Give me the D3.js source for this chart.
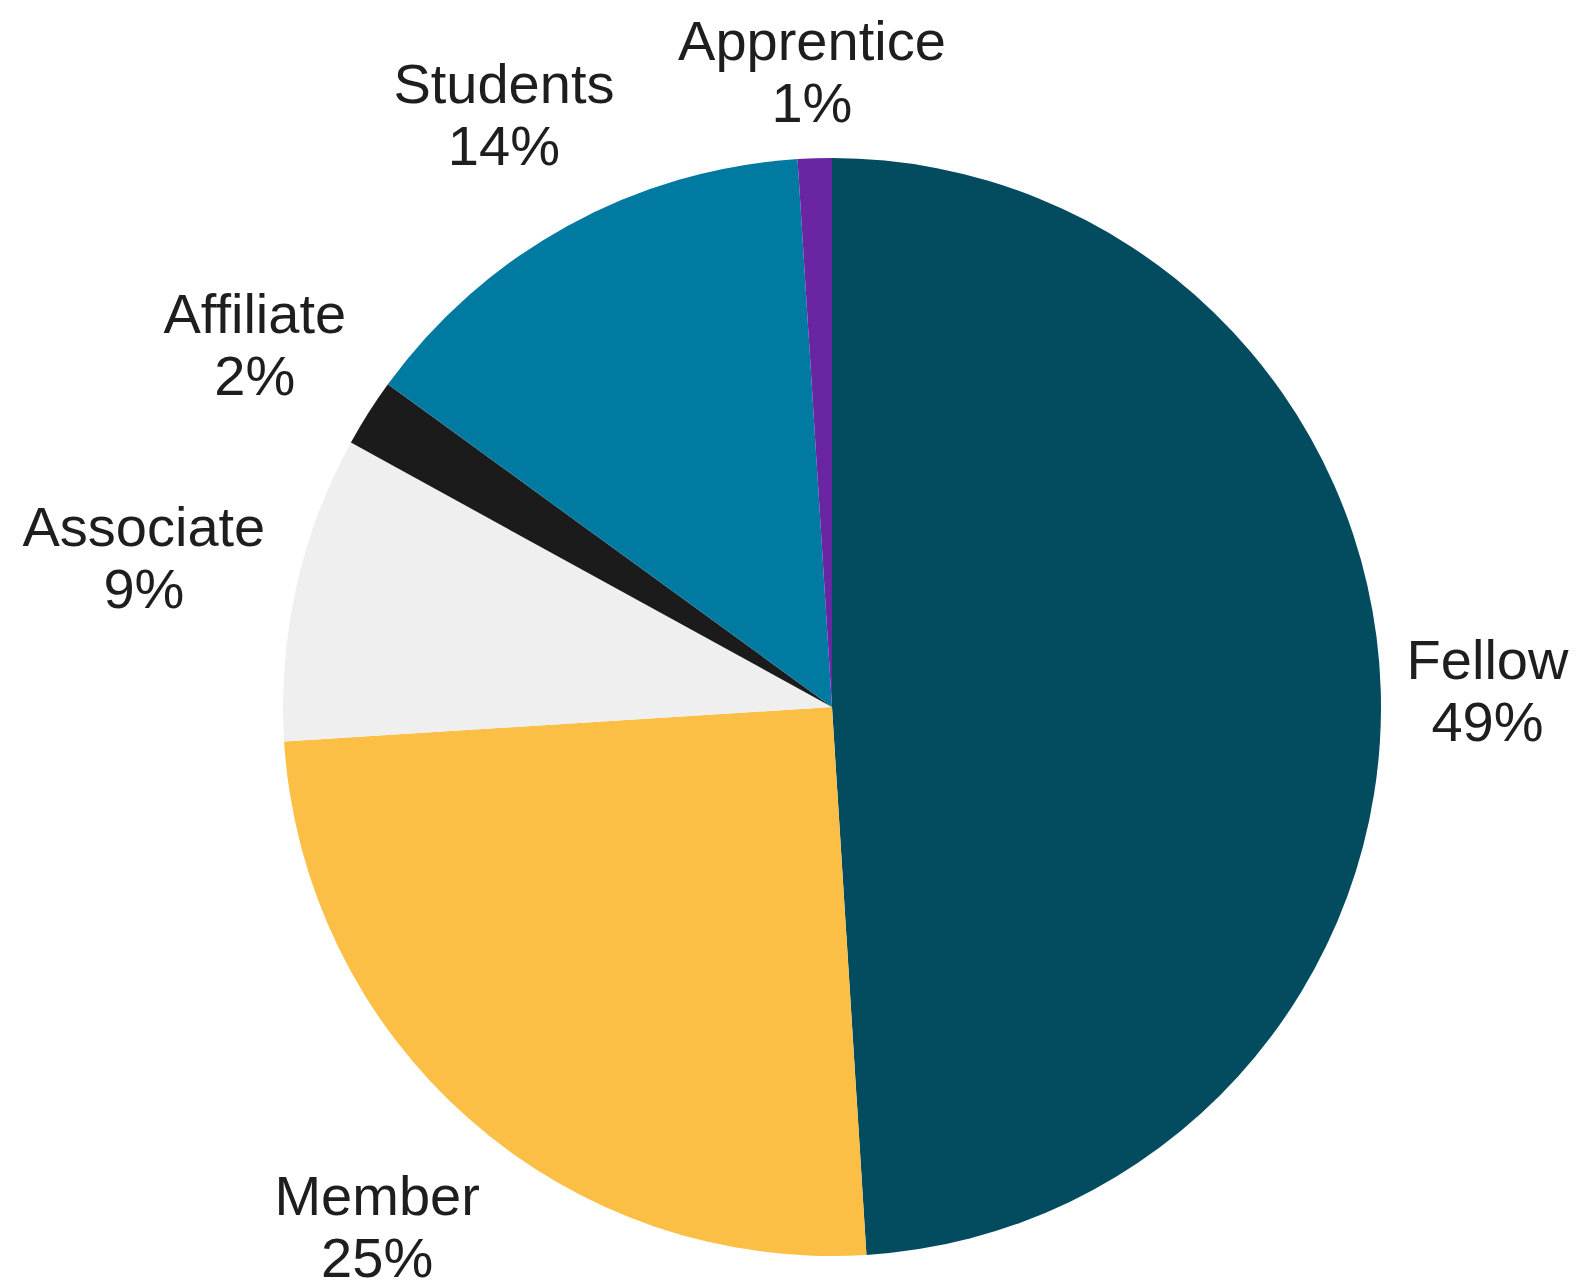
<!doctype html>
<html lang="en">
<head>
  <meta charset="utf-8">
  <title>Membership pie - D3</title>
  <style>
    html, body { margin: 0; padding: 0; background: #fff; }
    svg { display: block; }
  </style>
</head>
<body>
  <svg></svg>
  <script src="https://cdn.jsdelivr.net/npm/d3@7"></script>
  <script>
    // data, clockwise from 12 o'clock
    var categories = ['Fellow', 'Member', 'Associate', 'Affiliate', 'Students', 'Apprentice'];
    var values = [49, 25, 9, 2, 14, 1];
    var colors = ['#034b5f', '#fcbf45', '#efefef', '#1b1b1b', '#007aa0', '#6a25a3'];

    var width = 1587;
    var height = 1282;
    var cx = 832, cy = 707;
    var radius = 549;
    var labelGap = 24;
    var fontSize = 56;
    var lineStep = 62;

    var svg = d3.select('svg')
      .attr('width', width)
      .attr('height', height);

    var data = categories.map(function (c, i) { return { name: c, value: values[i] }; });

    var pie = d3.pie().sort(null).value(function (d) { return d.value; });
    var arc = d3.arc().innerRadius(0).outerRadius(radius);
    var arcs = pie(data);

    var g = svg.append('g').attr('transform', 'translate(' + cx + ',' + cy + ')');

    g.selectAll('path').data(arcs).enter()
      .append('path')
      .attr('d', arc)
      .attr('fill', function (d, i) { return colors[i]; });

    // labels: two lines, placed just outside the pie along the mid angle
    var labels = g.selectAll('g.label').data(arcs).enter()
      .append('g')
      .attr('class', 'label');

    var text = labels.append('text')
      .attr('text-anchor', 'middle')
      .attr('font-family', '"Liberation Sans", Arial, sans-serif')
      .attr('font-size', fontSize)
      .attr('fill', '#1e1e1e');

    text.append('tspan')
      .attr('x', 0)
      .attr('y', 0)
      .text(function (d) { return d.data.name; });
    text.append('tspan')
      .attr('x', 0)
      .attr('y', lineStep)
      .text(function (d) {
        var total = d3.sum(values);
        return Math.round(d.data.value / total * 100) + '%';
      });

    labels.each(function (d) {
      var box = this.getBBox();
      var a = (d.startAngle + d.endAngle) / 2;
      var sx = Math.sin(a), sy = -Math.cos(a);
      var w = box.width / 2, h = box.height / 2;
      var r = radius + labelGap + Math.abs(sx) * w + Math.abs(sy) * h;
      var mx = box.x + w, my = box.y + h - 4; // small nudge down, text sits a bit low in the original
      d3.select(this).attr('transform',
        'translate(' + (sx * r - mx) + ',' + (sy * r - my) + ')');
    });
  </script>
</body>
</html>
